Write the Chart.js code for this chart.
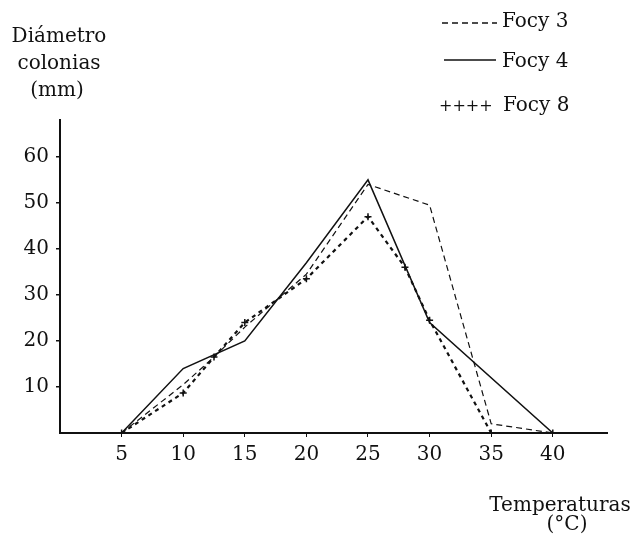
<!DOCTYPE html>
<html>
<head>
<meta charset="utf-8">
<script src="https://cdn.jsdelivr.net/npm/chart.js@4"></script>
<style>
  html, body { margin: 0; padding: 0; background: #fff; }
  #wrap { width: 633px; height: 544px; position: relative; }
</style>
</head>
<body>
<div id="wrap"><canvas id="chart"></canvas></div>
<script>
// temperatures (x) and colony diameters (y)
const temps3 = [5, 10, 12.5, 15, 20, 25, 30, 35, 40];
const focy3 = [0, 10.5, 16.5, 23, 34.5, 54, 49.5, 2, 0];

const temps4 = [5, 10, 15, 20, 25, 30, 40];
const focy4 = [0, 14, 20, 37, 55, 24, 0];

const temps8 = [5, 10, 12.5, 15, 20, 25, 28, 30, 35, 40];
const focy8 = [0, 8.7, 16.5, 24, 33.5, 47, 36, 24.5, 0, 0];

const xTicks = [5, 10, 15, 20, 25, 30, 35, 40];
const yTicks = [10, 20, 30, 40, 50, 60];

const seriesNames = ['Focy 3', 'Focy 4', 'Focy 8'];
const yTitle = ['Diámetro', 'colonias', '(mm)'];
const xTitle = ['Temperaturas', '(°C)'];

const FONT = '"DejaVu Serif", serif';
const INK = '#111';

function pairs(xs, ys) {
  return xs.map((x, i) => ({ x: x, y: ys[i] }));
}

// axis titles and the hand-made key in the top right corner
const annotations = {
  id: 'annotations',
  afterDraw(chart) {
    const ctx = chart.ctx;
    ctx.save();
    ctx.fillStyle = INK;
    ctx.strokeStyle = INK;
    ctx.font = '20px ' + FONT;
    ctx.textBaseline = 'middle';
    ctx.textAlign = 'center';
    ctx.fillText(yTitle[0], 59, 37);
    ctx.fillText(yTitle[1], 59, 64);
    ctx.fillText(yTitle[2], 57, 91);
    ctx.fillText(xTitle[0], 560, 506);
    ctx.fillText(xTitle[1], 567, 525);

    const ds = chart.data.datasets;
    ctx.textAlign = 'left';
    // Focy 3
    ctx.lineWidth = 1.3;
    ctx.setLineDash(ds[0].borderDash);
    ctx.beginPath(); ctx.moveTo(442, 23); ctx.lineTo(497, 23); ctx.stroke();
    ctx.fillText(ds[0].label, 502, 22);
    // Focy 4
    ctx.setLineDash([]);
    ctx.lineWidth = 1.6;
    ctx.beginPath(); ctx.moveTo(444, 60); ctx.lineTo(496, 60); ctx.stroke();
    ctx.fillText(ds[1].label, 502, 62);
    // Focy 8
    ctx.fillText(ds[2].label, 503, 106);
    ctx.font = '16px ' + FONT;
    ctx.fillText('++++', 439, 107);
    ctx.restore();
  }
};

new Chart(document.getElementById('chart'), {
  type: 'line',
  data: {
    datasets: [
      {
        label: seriesNames[0],
        data: pairs(temps3, focy3),
        borderColor: INK,
        borderWidth: 1.2,
        borderDash: [6, 4],
        pointRadius: 0,
        tension: 0
      },
      {
        label: seriesNames[1],
        data: pairs(temps4, focy4),
        borderColor: INK,
        borderWidth: 1.5,
        pointRadius: 0,
        tension: 0
      },
      {
        label: seriesNames[2],
        data: pairs(temps8, focy8),
        borderColor: INK,
        borderWidth: 2.2,
        borderDash: [4, 4],
        pointStyle: 'cross',
        pointRadius: 3.5,
        pointBorderWidth: 1.5,
        pointBorderColor: INK,
        tension: 0
      }
    ]
  },
  options: {
    responsive: true,
    maintainAspectRatio: false,
    animation: false,
    layout: { padding: { left: 0, right: 26, top: 120, bottom: 0 } },
    plugins: {
      legend: { display: false },
      tooltip: { enabled: false }
    },
    scales: {
      x: {
        type: 'linear',
        min: 0,
        max: 44.4,
        afterBuildTicks: (s) => { s.ticks = xTicks.map(v => ({ value: v })); },
        afterFit: (s) => { s.height = 111; },
        grid: { drawOnChartArea: false, tickLength: 4, color: INK, lineWidth: 1 },
        border: { display: true, color: INK, width: 2 },
        ticks: {
          color: INK,
          padding: 6,
          maxRotation: 0,
          font: { family: FONT, size: 20 }
        }
      },
      y: {
        type: 'linear',
        min: 0,
        max: 68,
        afterBuildTicks: (s) => { s.ticks = yTicks.map(v => ({ value: v })); },
        afterFit: (s) => { s.width = 60; },
        grid: { drawOnChartArea: false, tickLength: 4, color: INK, lineWidth: 1.5 },
        border: { display: true, color: INK, width: 2 },
        ticks: {
          color: INK,
          padding: 7,
          font: { family: FONT, size: 20 }
        }
      }
    }
  },
  plugins: [annotations]
});
</script>
</body>
</html>
